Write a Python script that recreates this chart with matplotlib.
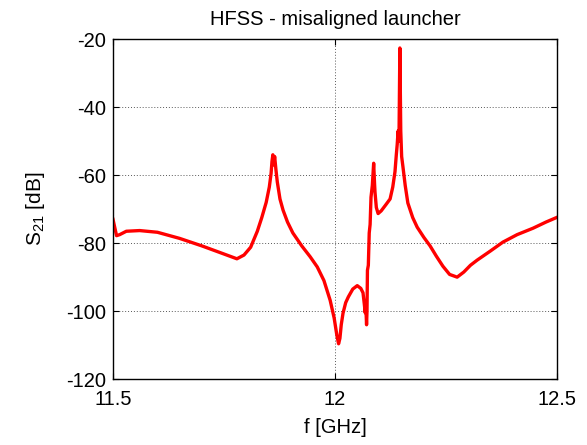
#!/usr/bin/env python3

import numpy as np
import matplotlib
matplotlib.use("Agg")
import matplotlib.pyplot as plt

plt.rcParams['font.family'] = ['Liberation Sans', 'DejaVu Sans']
plt.rcParams['mathtext.default'] = 'regular'
plt.rcParams['axes.unicode_minus'] = False

# frequency [GHz] and S21 [dB]
freq = [11.500, 11.508, 11.515, 11.530, 11.560, 11.600, 11.650, 11.700, 11.750, 11.779,
	11.795, 11.810, 11.825, 11.835, 11.845, 11.852, 11.856, 11.858, 11.860, 11.862,
	11.864, 11.867, 11.870, 11.876, 11.883, 11.893, 11.905, 11.925, 11.944, 11.960,
	11.975, 11.989, 11.998, 12.004, 12.008, 12.011, 12.014, 12.018, 12.024, 12.030,
	12.040, 12.050, 12.058, 12.063, 12.066, 12.068, 12.069, 12.071, 12.072, 12.073,
	12.075, 12.077, 12.079, 12.081, 12.084, 12.087, 12.089, 12.090, 12.093, 12.097,
	12.104, 12.115, 12.124, 12.130, 12.135, 12.138, 12.140, 12.142, 12.144, 12.146,
	12.148, 12.150, 12.153, 12.158, 12.164, 12.175, 12.185, 12.200, 12.214, 12.228,
	12.243, 12.258, 12.275, 12.290, 12.305, 12.320, 12.350, 12.378, 12.410, 12.446,
	12.475, 12.500]
s21 = [-73.0, -77.8, -77.5, -76.5, -76.3, -76.8, -78.6, -80.8, -83.2, -84.6,
	-83.5, -81.2, -76.5, -72.5, -68.0, -63.5, -59.5, -56.0, -54.0, -57.0,
	-54.5, -58.5, -62.0, -67.0, -70.3, -73.8, -77.0, -80.8, -84.0, -87.0,
	-91.0, -96.8, -102.0, -107.0, -109.6, -108.0, -104.0, -100.6, -97.5, -95.8,
	-93.5, -92.5, -93.3, -94.6, -98.0, -100.5, -97.5, -104.0, -100.0, -88.0,
	-86.5, -77.0, -74.5, -66.5, -63.0, -56.5, -62.5, -65.0, -69.5, -71.3,
	-70.5, -68.6, -67.0, -63.5, -59.0, -54.0, -51.0, -47.0, -50.0, -22.6,
	-47.0, -54.5, -57.6, -63.0, -68.2, -72.5, -75.3, -78.3, -80.8, -83.8,
	-86.8, -89.2, -90.0, -88.5, -86.5, -85.0, -82.3, -79.7, -77.5, -75.6,
	-73.8, -72.4]

xticks = [11.5, 12, 12.5]
xtick_labels = ["11.5", "12", "12.5"]
yticks = [-120, -100, -80, -60, -40, -20]

fig = plt.figure(figsize=(5.87, 4.45), dpi=100)
ax = fig.add_axes([0.1925, 0.148, 0.7565, 0.764])

ax.plot(freq, s21, color="red", linewidth=2.4)

ax.set_xlim(11.5, 12.5)
ax.set_ylim(-120, -20)
ax.set_xticks(xticks)
ax.set_xticklabels(xtick_labels)
ax.set_yticks(yticks)
ax.tick_params(direction="in", labelsize=14.5, length=4, width=0.8, top=True, right=True)
ax.tick_params(axis="x", pad=8)
ax.tick_params(axis="y", pad=5)
ax.grid(True, color="0.35", linestyle=(0, (1, 2)), linewidth=0.7)
for s in ax.spines.values():
	s.set_linewidth(1.0)

ax.set_title("HFSS - misaligned launcher", fontsize=14.5, pad=10)
ax.set_xlabel("f [GHz]", fontsize=14.5, labelpad=6)
ax.set_ylabel("S$_{21}$ [dB]", fontsize=15, labelpad=14)

fig.savefig("out.png", dpi=100)
